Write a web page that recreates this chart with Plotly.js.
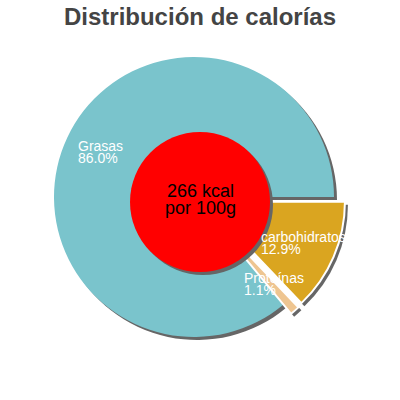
<!DOCTYPE html>
<html>
<head>
<meta charset="utf-8">
<script src="https://cdn.plot.ly/plotly-3.0.1.min.js"></script>
<style>
  body { margin: 0; background: #fff; }
  #chart { width: 400px; height: 400px; }
</style>
</head>
<body>
<div id="chart"></div>
<script>
// chart data
const labels = ['Grasas', 'Proteínas', 'carbohidratos'];
const values = [86.0, 1.1, 12.9];
const pulls = [0, 0.085, 0.085];
const colors = ['#7ac4cc', '#eec591', '#daa520'];
const titleText = 'Distribución de calorías';
const centerLines = ['266 kcal', 'por 100g'];

const W = 400, H = 400;
const cx = 194, cy = 197, r = 140;
const shadow = '#666666';
const fontFam = '"Liberation Sans", Arial, sans-serif';

const maxPull = Math.max(...pulls);
const half = r * (1 + maxPull);
const total = values.reduce((a, b) => a + b, 0);

function domain(dx, dy) {
    return {
        x: [(cx + dx - half) / W, (cx + dx + half) / W],
        y: [1 - (cy + dy + half) / H, 1 - (cy + dy - half) / H]
    };
}

// first slice starts at 3 o'clock and runs counterclockwise
const rotation = 90 - 360 * values[0] / total;

const pieBase = {
    type: 'pie',
    labels: labels,
    values: values,
    pull: pulls,
    sort: false,
    direction: 'counterclockwise',
    rotation: rotation,
    textinfo: 'none',
    hoverinfo: 'none',
    showlegend: false
};

const data = [
    Object.assign({}, pieBase, {
        domain: domain(3, 3),
        marker: { colors: labels.map(() => shadow), line: { width: 0 } }
    }),
    Object.assign({}, pieBase, {
        domain: domain(0, 0),
        // white edge only round the pulled-out slices
        marker: { colors: colors, line: { color: '#ffffff', width: pulls.map(p => p > 0 ? 2 : 0) } }
    })
];

// label positions from the slice angles
const canvas = document.createElement('canvas');
const ctx = canvas.getContext('2d');
ctx.font = '14px ' + fontFam;

const annotations = [];
let acc = 0;
values.forEach((v, i) => {
    const mid = (acc + v / 2) / total * 2 * Math.PI;
    acc += v;
    const dist = 0.75 * r + pulls[i] * r;
    const px = cx + Math.cos(mid) * dist;
    const py = cy - Math.sin(mid) * dist;
    const pct = (v / total * 100).toFixed(1) + '%';
    const wBlock = Math.max(ctx.measureText(labels[i]).width, ctx.measureText(pct).width);
    const left = px - wBlock / 2;
    [[labels[i], py - 6], [pct, py + 6]].forEach(([t, y]) => {
        annotations.push({
            text: t, xref: 'paper', yref: 'paper',
            x: left / W, y: 1 - y / H,
            xanchor: 'left', yanchor: 'middle',
            showarrow: false,
            font: { family: fontFam, size: 14, color: '#ffffff' }
        });
    });
});

// center text
const ccx = 200, ccy = 202, cr = 70;
centerLines.forEach((t, i) => {
    annotations.push({
        text: t, xref: 'paper', yref: 'paper',
        x: ccx / W, y: 1 - (ccy - 11 + i * 17) / H,
        xanchor: 'center', yanchor: 'middle',
        showarrow: false,
        font: { family: fontFam, size: 18, color: '#000000' }
    });
});

const circle = (dx, dy, color) => ({
    type: 'circle', xref: 'paper', yref: 'paper',
    x0: (ccx - cr + dx) / W, x1: (ccx + cr + dx) / W,
    y0: 1 - (ccy + cr + dy) / H, y1: 1 - (ccy - cr + dy) / H,
    fillcolor: color, line: { width: 0 }, layer: 'above'
});

const layout = {
    width: W,
    height: H,
    margin: { l: 0, r: 0, t: 0, b: 0 },
    paper_bgcolor: '#ffffff',
    title: {
        text: '<b>' + titleText + '</b>',
        x: 0.5, xanchor: 'center',
        y: 1 - 17 / H, yref: 'container', yanchor: 'middle',
        font: { family: fontFam, size: 24, color: '#444444' }
    },
    shapes: [circle(3, 3, shadow), circle(0, 0, '#ff0000')],
    annotations: annotations
};

Plotly.newPlot('chart', data, layout, { staticPlot: true });
</script>
</body>
</html>
